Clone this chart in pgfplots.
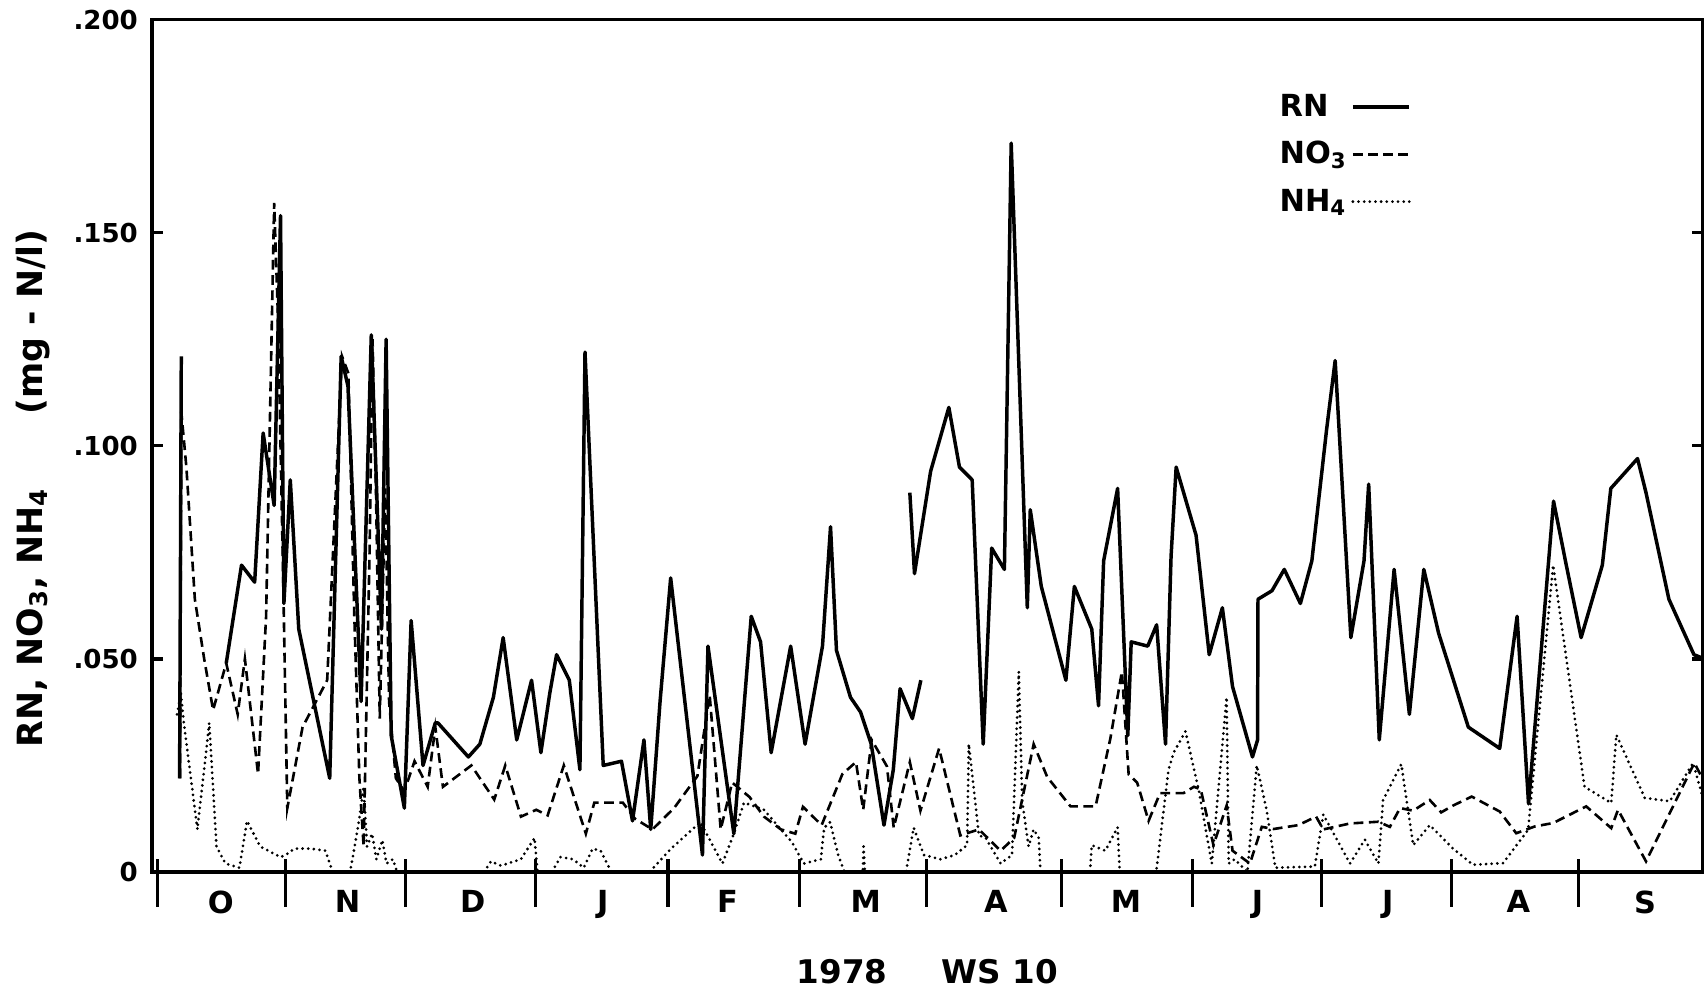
\documentclass[border=0pt]{standalone}
\usepackage{fontspec}
\setmainfont{DejaVu Sans}
\usepackage{pgfplots}
\pgfplotsset{compat=1.18}

\begin{document}
\begin{tikzpicture}
\useasboundingbox (-70pt,-55.5pt) rectangle (715pt,401.5pt);
\begin{axis}[
  scale only axis, width=714pt, height=392.5pt,
  xmin=-1.3, xmax=364.4, ymin=0, ymax=0.2,
  unbounded coords=jump,
  axis line style={line width=1.5pt},
  tick style={black, line width=1.5pt},
  % month boundaries: long ticks crossing the time axis
  xtick pos=bottom,
  xtick={0,30.2,58.4,89.1,120.4,151.3,181.3,213.1,244.0,274.5,305.2,335.0},
  xticklabels={},
  major tick length=22pt,
  tick align=center,
  x tick style={yshift=-5pt},
  % month names centred between the boundaries
  extra x ticks={14.9,44.8,74.3,105,134.4,167,197.7,228.4,259.4,290.1,320.9,350.8},
  extra x tick labels={O,N,D,J,F,M,A,M,J,J,A,S},
  extra x tick style={major tick length=0pt,
    tick label style={font=\bfseries\fontsize{14}{16}\selectfont, yshift=-5pt}},
  % concentration scale
  ytick pos=both,
  ytick=\empty,
  extra y ticks={0,0.05,0.1,0.15,0.2},
  extra y tick labels={0,.050,.100,.150,.200},
  extra y tick style={major tick length=5pt, tick align=inside,
    tick label style={font=\bfseries\fontsize{12}{14}\selectfont, xshift=-3pt}},
  ylabel={RN, NO\textsubscript{3}, NH\textsubscript{4}\hspace{34pt}(mg - N/l)},
  ylabel style={at={(axis description cs:-0.077,0.45)}, anchor=center,
    font=\bfseries\fontsize{16}{19}\selectfont},
  xlabel={1978\hspace{25pt}WS 10},
  xlabel style={at={(axis description cs:0.5,-0.117)}, anchor=center,
    font=\bfseries\fontsize{15}{18}\selectfont},
  legend style={draw=none, fill=none, at={(axis description cs:0.724,0.918)},
    anchor=north west, legend plot pos=right,
    font=\bfseries\fontsize{14}{17}\selectfont, row sep=6pt, inner sep=0pt},
  legend cell align=left,
  legend image code/.code={\draw[#1] (0pt,0pt) -- (26pt,0pt);},
]

% RN (solid)
\addplot[black, line width=1.6pt, line join=round] coordinates {
(5.2,0.022)(5.6,0.121)(5.9,nan)
(16.2,0.049)(19.8,0.072)(22.9,0.068)(24.9,0.103)(27.5,0.086)(29.0,0.154)(29.8,0.063)
(31.3,0.092)(33.3,0.057)(40.6,0.022)(43.3,0.121)(44.9,0.114)(48.0,0.040)(50.4,0.126)
(52.8,0.057)(53.9,0.125)(55.1,0.032)(58.2,0.015)(59.8,0.059)(62.6,0.025)(65.5,0.035)
(66.1,0.035)(73.3,0.027)(76.0,0.030)(79.2,0.041)(81.5,0.055)(84.7,0.031)(88.2,0.045)
(90.4,0.028)(92.5,0.042)(94.1,0.051)(97.1,0.045)(99.6,0.024)(100.8,0.122)(105.1,0.025)
(109.4,0.026)(112.0,0.012)(114.7,0.031)(116.3,0.010)(118.5,0.040)(121.0,0.069)(128.5,0.004)
(129.8,0.053)(135.9,0.009)(140.0,0.060)(142.2,0.054)(144.7,0.028)(149.3,0.053)(152.7,0.030)
(156.8,0.053)(158.7,0.081)(160.1,0.052)(163.4,0.041)(165.8,0.0375)(168.3,0.030)(171.3,0.011)
(173.5,0.024)(175.1,0.043)(178.0,0.036)(180.0,0.045)(180.5,nan)
(177.4,0.089)(178.5,0.070)(182.3,0.094)(186.6,0.109)(189.1,0.095)(192.1,0.092)(194.7,0.030)
(196.7,0.076)(199.7,0.071)(201.3,0.171)(205.1,0.062)(205.8,0.085)(208.4,0.067)(214.2,0.045)
(216.2,0.067)(220.3,0.057)(221.9,0.039)(223.1,0.073)(226.4,0.090)(228.8,0.032)(229.6,0.054)
(233.5,0.053)(235.6,0.058)(237.7,0.030)(239.0,0.074)(240.2,0.095)(244.9,0.079)(248.0,0.051)
(251.1,0.062)(253.5,0.0435)(258.2,0.027)(259.4,0.031)(259.5,0.064)(262.8,0.066)(265.7,0.071)
(269.5,0.063)(272.2,0.073)(275.7,0.104)(277.7,0.120)(281.4,0.055)(284.5,0.073)(285.6,0.091)
(288.1,0.031)(291.6,0.071)(295.2,0.037)(298.6,0.071)(302.1,0.056)(309.1,0.034)(316.5,0.029)
(320.6,0.060)(323.3,0.016)(329.2,0.087)(332.2,0.072)(335.7,0.055)(340.7,0.072)(342.7,0.090)
(349.0,0.097)(351.0,0.089)(356.4,0.064)(362.3,0.051)(364.8,0.050)
};
\addlegendentry{RN}

% NO3 (dashed)
\addplot[black, line width=1.2pt, dash pattern=on 4.5pt off 2.5pt] coordinates {
(5.3,0.022)(5.6,0.108)(6.8,0.095)(8.8,0.064)(11.0,0.050)(13.1,0.038)(16.2,0.049)(18.9,0.037)
(20.6,0.050)(23.7,0.023)(25.6,0.060)(27.5,0.157)(28.4,0.130)(29.6,0.070)(30.6,0.015)(34.2,0.034)
(40.0,0.045)(43.5,0.121)(45.0,0.117)(46.4,0.060)(47.6,0.022)(48.6,0.006)(50.0,0.075)(50.7,0.125)
(51.5,0.090)(52.4,0.036)(53.7,0.090)(54.6,0.040)(56.2,0.022)(58.2,0.019)(60.6,0.026)(63.7,0.020)
(65.5,0.034)(67.3,0.020)(74.0,0.025)(79.4,0.017)(82.0,0.025)(85.7,0.013)(89.3,0.0146)(92.0,0.0133)
(95.8,0.025)(101.0,0.009)(103.0,0.0163)(109.7,0.0163)(112.6,0.0125)(116.7,0.010)(121.8,0.015)
(127.3,0.0225)(130.2,0.0415)(132.8,0.010)(135.5,0.021)(139.6,0.0176)(143.0,0.013)(147.0,0.010)
(150.4,0.009)(152.2,0.0153)(156.6,0.011)(161.5,0.023)(164.7,0.0258)(166.4,0.0146)(168.4,0.031)
(172.0,0.0248)(173.6,0.0104)(177.4,0.0258)(179.9,0.0144)(184.3,0.029)(189.3,0.0086)(193.7,0.010)
(198.8,0.005)(202.0,0.008)(206.6,0.030)(209.8,0.0223)(215.3,0.0154)(221.2,0.0154)(224.7,0.0314)
(227.4,0.047)(229.0,0.0229)(231.0,0.021)(233.7,0.012)(236.4,0.0185)(241.9,0.0185)(244.4,0.020)
(246.0,0.0194)(249.0,0.0063)(252.1,0.0156)(253.5,0.005)(257.6,0.002)(260.4,0.0106)(263.2,0.0101)
(269.0,0.011)(273.2,0.013)(274.9,0.010)(281.2,0.0114)(287.9,0.0118)(290.6,0.0106)(293.0,0.015)
(296.1,0.0144)(300.0,0.0169)(302.7,0.014)(305.5,0.0156)(309.9,0.0177)(316.5,0.0142)(320.4,0.0091)
(324.8,0.0107)(329.1,0.0115)(336.9,0.0154)(342.8,0.0103)(344.4,0.0146)(351.0,0.0025)(362.4,0.0256)
(364.8,0.021)
};
\addlegendentry{NO\textsubscript{3}}

% NH4 (dotted)
\addplot[black, line width=1.4pt, line cap=round, dash pattern=on 0pt off 2.6pt] coordinates {
(4.6,0.037)(5.5,0.042)(6.2,0.035)(9.4,0.010)(12.2,0.035)(13.9,0.006)(16.0,0.002)(19.3,0.001)
(21.1,0.012)(24.2,0.006)(29.0,0.0035)(30.2,0.004)(32.3,0.0055)(36.0,0.0055)(39.6,0.005)(41.3,0.0)
(45.4,0.0)(46.3,0.005)(47.5,0.012)(48.6,0.020)(49.4,0.006)(50.6,0.009)(51.6,0.003)(53.0,0.0075)
(54.0,0.002)(55.5,0.003)(56.5,0.0)(77.0,0.0)(78.6,0.0025)(81.0,0.0015)(85.7,0.003)(88.9,0.008)
(89.6,0.0)(93.0,0.0)(95.0,0.0035)(98.0,0.003)(100.5,0.001)(102.6,0.0055)(104.5,0.005)(107.0,0.0)
(116.0,0.0)(121.1,0.0055)(128.0,0.0117)(133.2,0.002)(135.9,0.009)(138.3,0.0163)(143.0,0.0146)
(149.6,0.007)(152.4,0.002)(156.4,0.003)(157.2,0.0104)(158.6,0.0117)(160.5,0.004)(162.0,0.0)
(166.3,0.0)(166.5,0.006)(166.8,0.0)(176.5,0.0)(178.3,0.0104)(180.7,0.004)(184.6,0.003)(188.0,0.004)
(190.9,0.0063)(191.3,0.030)(193.7,0.0086)(195.3,0.008)(198.8,0.002)(201.5,0.004)(203.1,0.047)
(203.9,0.0166)(205.4,0.006)(206.6,0.010)(207.8,0.008)(208.2,0.0)(219.9,0.0)(220.3,0.0063)
(223.5,0.005)(226.4,0.0105)(226.9,0.0)(235.5,0.0)(238.4,0.024)(239.6,0.028)(242.4,0.033)
(245.5,0.0194)(248.6,0.002)(252.1,0.041)(252.6,0.002)(254.0,0.003)(257.0,0.0)(259.2,0.025)
(261.5,0.0148)(263.6,0.001)(272.9,0.0013)(274.9,0.0135)(281.2,0.002)(284.7,0.0076)(287.9,0.002)
(289.0,0.0169)(293.3,0.0253)(296.1,0.0063)(300.0,0.011)(305.5,0.0055)(310.2,0.0017)(317.3,0.0021)
(323.2,0.0099)(329.1,0.072)(336.5,0.020)(342.8,0.0162)(344.0,0.0322)(350.7,0.0174)(356.6,0.0166)
(362.1,0.0256)(364.8,0.016)
};
\addlegendentry{NH\textsubscript{4}}

\end{axis}
\end{tikzpicture}
\end{document}
